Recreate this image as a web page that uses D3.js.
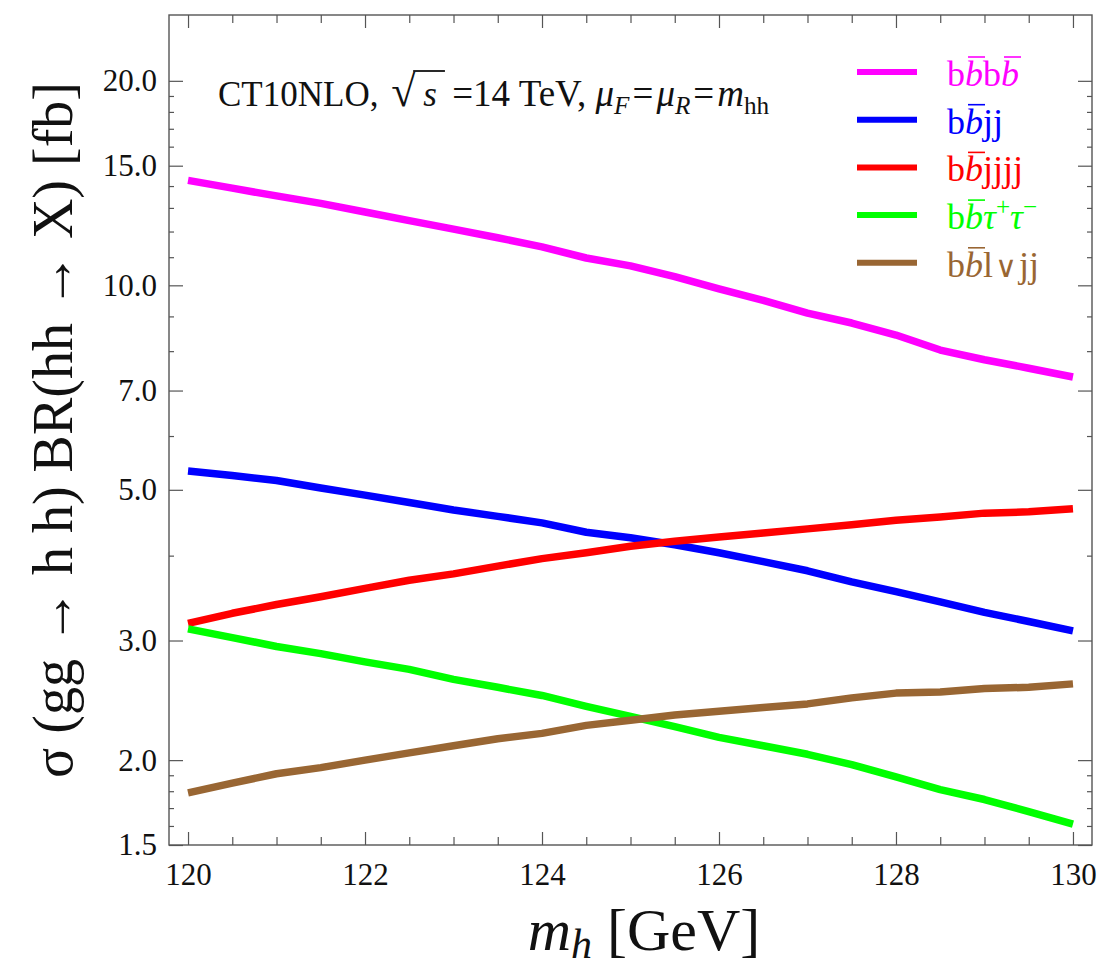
<!DOCTYPE html>
<html lang="en">
<head>
  <meta charset="UTF-8">
  <title>hh cross sections</title>
  <script src="https://cdn.jsdelivr.net/npm/d3@7"></script>
  <style>
    body { margin: 0; background: #fff; }
    svg text { font-family: "Liberation Serif", "Times New Roman", serif; }
  </style>
</head>
<body>
  <svg id="chart" width="1118" height="968"></svg>
  <script>
    // values, sigma x BR in fb
    const masses = [120, 120.5, 121, 121.5, 122, 122.5, 123, 123.5, 124, 124.5, 125,
                    125.5, 126, 126.5, 127, 127.5, 128, 128.5, 129, 129.5, 130];
    const bbbb    = [14.27, 13.9, 13.54, 13.2, 12.82, 12.45, 12.1, 11.75, 11.39, 10.97, 10.68,
                     10.3, 9.88, 9.5, 9.1, 8.8, 8.45, 8.03, 7.77, 7.55, 7.33];
    const bbjj    = [5.33, 5.25, 5.16, 5.03, 4.91, 4.79, 4.67, 4.57, 4.47, 4.33, 4.25,
                     4.15, 4.04, 3.92, 3.80, 3.66, 3.54, 3.42, 3.30, 3.20, 3.10];
    const bbjjjj  = [3.18, 3.29, 3.39, 3.48, 3.58, 3.68, 3.76, 3.86, 3.96, 4.04, 4.13,
                     4.20, 4.26, 4.32, 4.38, 4.44, 4.51, 4.56, 4.62, 4.64, 4.69];
    const bbtata  = [3.12, 3.03, 2.94, 2.87, 2.79, 2.72, 2.63, 2.56, 2.49, 2.40, 2.32,
                     2.24, 2.16, 2.10, 2.04, 1.97, 1.89, 1.81, 1.75, 1.68, 1.61];
    const bblvjj  = [1.79, 1.85, 1.91, 1.95, 2.00, 2.05, 2.10, 2.15, 2.19, 2.25, 2.29,
                     2.33, 2.36, 2.39, 2.42, 2.47, 2.51, 2.52, 2.55, 2.56, 2.59];

    const xMajor = [120, 122, 124, 126, 128, 130];
    const xMinor = [120.5, 121, 121.5, 122.5, 123, 123.5, 124.5, 125, 125.5, 126.5, 127, 127.5,
                    128.5, 129, 129.5];
    const yMajor = [1.5, 2, 3, 5, 7, 10, 15, 20];
    const yMinor = [1.6, 1.7, 1.8, 1.9, 4, 6, 8, 9, 11, 12, 13, 14, 16, 17, 18, 19];

    // legend labels: i = italic, bar = overline, sup = superscript
    const series = [
      { values: bbbb,   color: '#ff00ff', label: [{ t: 'b' }, { t: 'b', i: 1, bar: 1 }, { t: 'b' }, { t: 'b', i: 1, bar: 1 }] },
      { values: bbjj,   color: '#0000ff', label: [{ t: 'b' }, { t: 'b', i: 1, bar: 1 }, { t: 'jj' }] },
      { values: bbjjjj, color: '#ff0000', label: [{ t: 'b' }, { t: 'b', i: 1, bar: 1 }, { t: 'jjjj' }] },
      { values: bbtata, color: '#00ff00', label: [{ t: 'b' }, { t: 'b', i: 1, bar: 1 }, { t: 'τ', i: 1 }, { t: '+', sup: 1 }, { t: 'τ', i: 1, up: 1 }, { t: '−', sup: 1 }] },
      { values: bblvjj, color: '#996633', label: [{ t: 'b' }, { t: 'b', i: 1, bar: 1 }, { t: 'l' }, { t: '∨', fs: 30, dx: 2 }, { t: 'jj', dx: 2 }] }
    ];

    const mLeft = 169, mRight = 1092, mTop = 15, mBottom = 845;
    const frameColor = '#555';

    const x = d3.scaleLinear().domain([119.785, 130.215]).range([mLeft, mRight]);
    const y = d3.scaleLog().domain([1.5, 25]).range([mBottom, mTop]);

    const svg = d3.select('#chart');

    svg.append('clipPath').attr('id', 'clip')
      .append('rect').attr('x', mLeft).attr('y', mTop)
      .attr('width', mRight - mLeft).attr('height', mBottom - mTop);

    // axes, ticks pointing inward
    const styleAxis = g => {
      g.select('.domain').remove();
      g.selectAll('.tick line').attr('stroke', frameColor).attr('stroke-width', 1.2);
      g.selectAll('.tick text').attr('fill', '#111').attr('font-size', 31)
        .attr('font-family', '"Liberation Serif", "Times New Roman", serif');
    };

    svg.append('g').attr('transform', `translate(0,${mBottom})`)
      .call(d3.axisBottom(x).tickValues(xMajor).tickFormat(d3.format('d'))
        .tickSizeInner(-13).tickSizeOuter(0).tickPadding(18))
      .call(styleAxis);
    svg.append('g').attr('transform', `translate(0,${mBottom})`)
      .call(d3.axisBottom(x).tickValues(xMinor).tickFormat('').tickSizeInner(-8).tickSizeOuter(0))
      .call(styleAxis);
    svg.append('g').attr('transform', `translate(0,${mTop})`)
      .call(d3.axisTop(x).tickValues(xMajor).tickFormat('').tickSizeInner(-13).tickSizeOuter(0))
      .call(styleAxis);
    svg.append('g').attr('transform', `translate(0,${mTop})`)
      .call(d3.axisTop(x).tickValues(xMinor).tickFormat('').tickSizeInner(-8).tickSizeOuter(0))
      .call(styleAxis);

    svg.append('g').attr('transform', `translate(${mLeft},0)`)
      .call(d3.axisLeft(y).tickValues(yMajor).tickFormat(d3.format('.1f'))
        .tickSizeInner(-14).tickSizeOuter(0).tickPadding(12))
      .call(styleAxis);
    svg.append('g').attr('transform', `translate(${mLeft},0)`)
      .call(d3.axisLeft(y).tickValues(yMinor).tickFormat('').tickSizeInner(-5).tickSizeOuter(0))
      .call(styleAxis);
    svg.append('g').attr('transform', `translate(${mRight},0)`)
      .call(d3.axisRight(y).tickValues(yMajor).tickFormat('').tickSizeInner(-14).tickSizeOuter(0))
      .call(styleAxis);
    svg.append('g').attr('transform', `translate(${mRight},0)`)
      .call(d3.axisRight(y).tickValues(yMinor).tickFormat('').tickSizeInner(-5).tickSizeOuter(0))
      .call(styleAxis);

    svg.append('rect')
      .attr('x', mLeft).attr('y', mTop)
      .attr('width', mRight - mLeft).attr('height', mBottom - mTop)
      .attr('fill', 'none').attr('stroke', frameColor).attr('stroke-width', 1.4);

    // curves
    const line = d3.line()
      .x((d, i) => x(masses[i]))
      .y(d => y(d));

    svg.append('g').attr('clip-path', 'url(#clip)')
      .selectAll('path').data(series).join('path')
      .attr('d', d => line(d.values))
      .attr('fill', 'none')
      .attr('stroke', d => d.color)
      .attr('stroke-width', 7.5)
      .attr('stroke-linejoin', 'round');

    // rich text: italic / sub / sup parts, returns tspans so bars can be added
    function richText(g, parts, fs, color) {
      const t = g.append('text').attr('font-size', fs).attr('fill', color);
      const spans = [];
      parts.forEach(p => {
        const s = t.append('tspan').text(p.t);
        if (p.i) s.attr('font-style', 'italic');
        if (p.fs) s.attr('font-size', p.fs);
        if (p.dx) s.attr('dx', p.dx);
        if (p.sup) s.attr('font-size', fs * 0.7).attr('dy', -fs * 0.38);
        if (p.up) s.attr('dy', fs * 0.38);
        if (p.sub) s.attr('font-size', fs * 0.72).attr('dy', fs * 0.24);
        if (p.down) s.attr('dy', -fs * 0.24);
        spans.push({ node: s.node(), p });
      });
      return spans;
    }

    // legend
    const legX = 857, legY0 = 72, legStep = 47.7;
    series.forEach((s, k) => {
      const ly = legY0 + k * legStep;
      svg.append('line')
        .attr('x1', legX).attr('x2', legX + 60)
        .attr('y1', ly).attr('y2', ly)
        .attr('stroke', s.color).attr('stroke-width', 6);
      const g = svg.append('g').attr('transform', `translate(947,${ly + 14})`);
      const spans = richText(g, s.label, 36, s.color);
      spans.forEach(({ node, p }) => {
        if (!p.bar) return;
        const b = node.getBBox();
        g.append('line')
          .attr('x1', b.x + 3).attr('x2', b.x + b.width + 2)
          .attr('y1', -29).attr('y2', -29)
          .attr('stroke', s.color).attr('stroke-width', 1.6);
      });
    });

    // annotation
    const ann = svg.append('g').attr('transform', 'translate(218,106)');
    const annParts = [
      { t: 'CT10NLO, ' }, { t: '√', fs: 44, dx: 4 }, { t: 's', i: 1, bar: 1, dx: 8 },
      { t: ' =14 TeV, ', fs: 37, dx: 6 },
      { t: 'μ', i: 1, fs: 37 }, { t: 'F', i: 1, sub: 1 }, { t: '=', down: 1, fs: 37, dx: 3 },
      { t: 'μ', i: 1, fs: 37, dx: 3 }, { t: 'R', i: 1, sub: 1 }, { t: '=', down: 1, fs: 37, dx: 3 },
      { t: 'm', i: 1, fs: 37, dx: 3 }, { t: 'hh', sub: 1 }
    ];
    const annSpans = richText(ann, annParts, 35, '#111');
    annSpans.forEach(({ node, p }, j) => {
      if (!p.bar) return;
      const rad = annSpans[j - 1].node.getBBox();
      const b = node.getBBox();
      ann.append('line')
        .attr('x1', rad.x + rad.width - 3).attr('x2', b.x + b.width + 8)
        .attr('y1', rad.y + 4).attr('y2', rad.y + 4)
        .attr('stroke', '#111').attr('stroke-width', 1.8);
    });

    // axis titles
    const xt = svg.append('text')
      .attr('x', 644).attr('y', 950)
      .attr('text-anchor', 'middle').attr('font-size', 60).attr('fill', '#111');
    xt.append('tspan').text('m').attr('font-style', 'italic');
    xt.append('tspan').text('h').attr('font-style', 'italic').attr('font-size', 42).attr('dy', 8);
    xt.append('tspan').text(' [GeV]').attr('dy', -8);

    svg.append('text')
      .attr('transform', `translate(72,${(mTop + mBottom) / 2}) rotate(-90)`)
      .attr('text-anchor', 'middle').attr('font-size', 56).attr('fill', '#111')
      .text('σ (gg → h h) BR(hh → X) [fb]');
  </script>
</body>
</html>
